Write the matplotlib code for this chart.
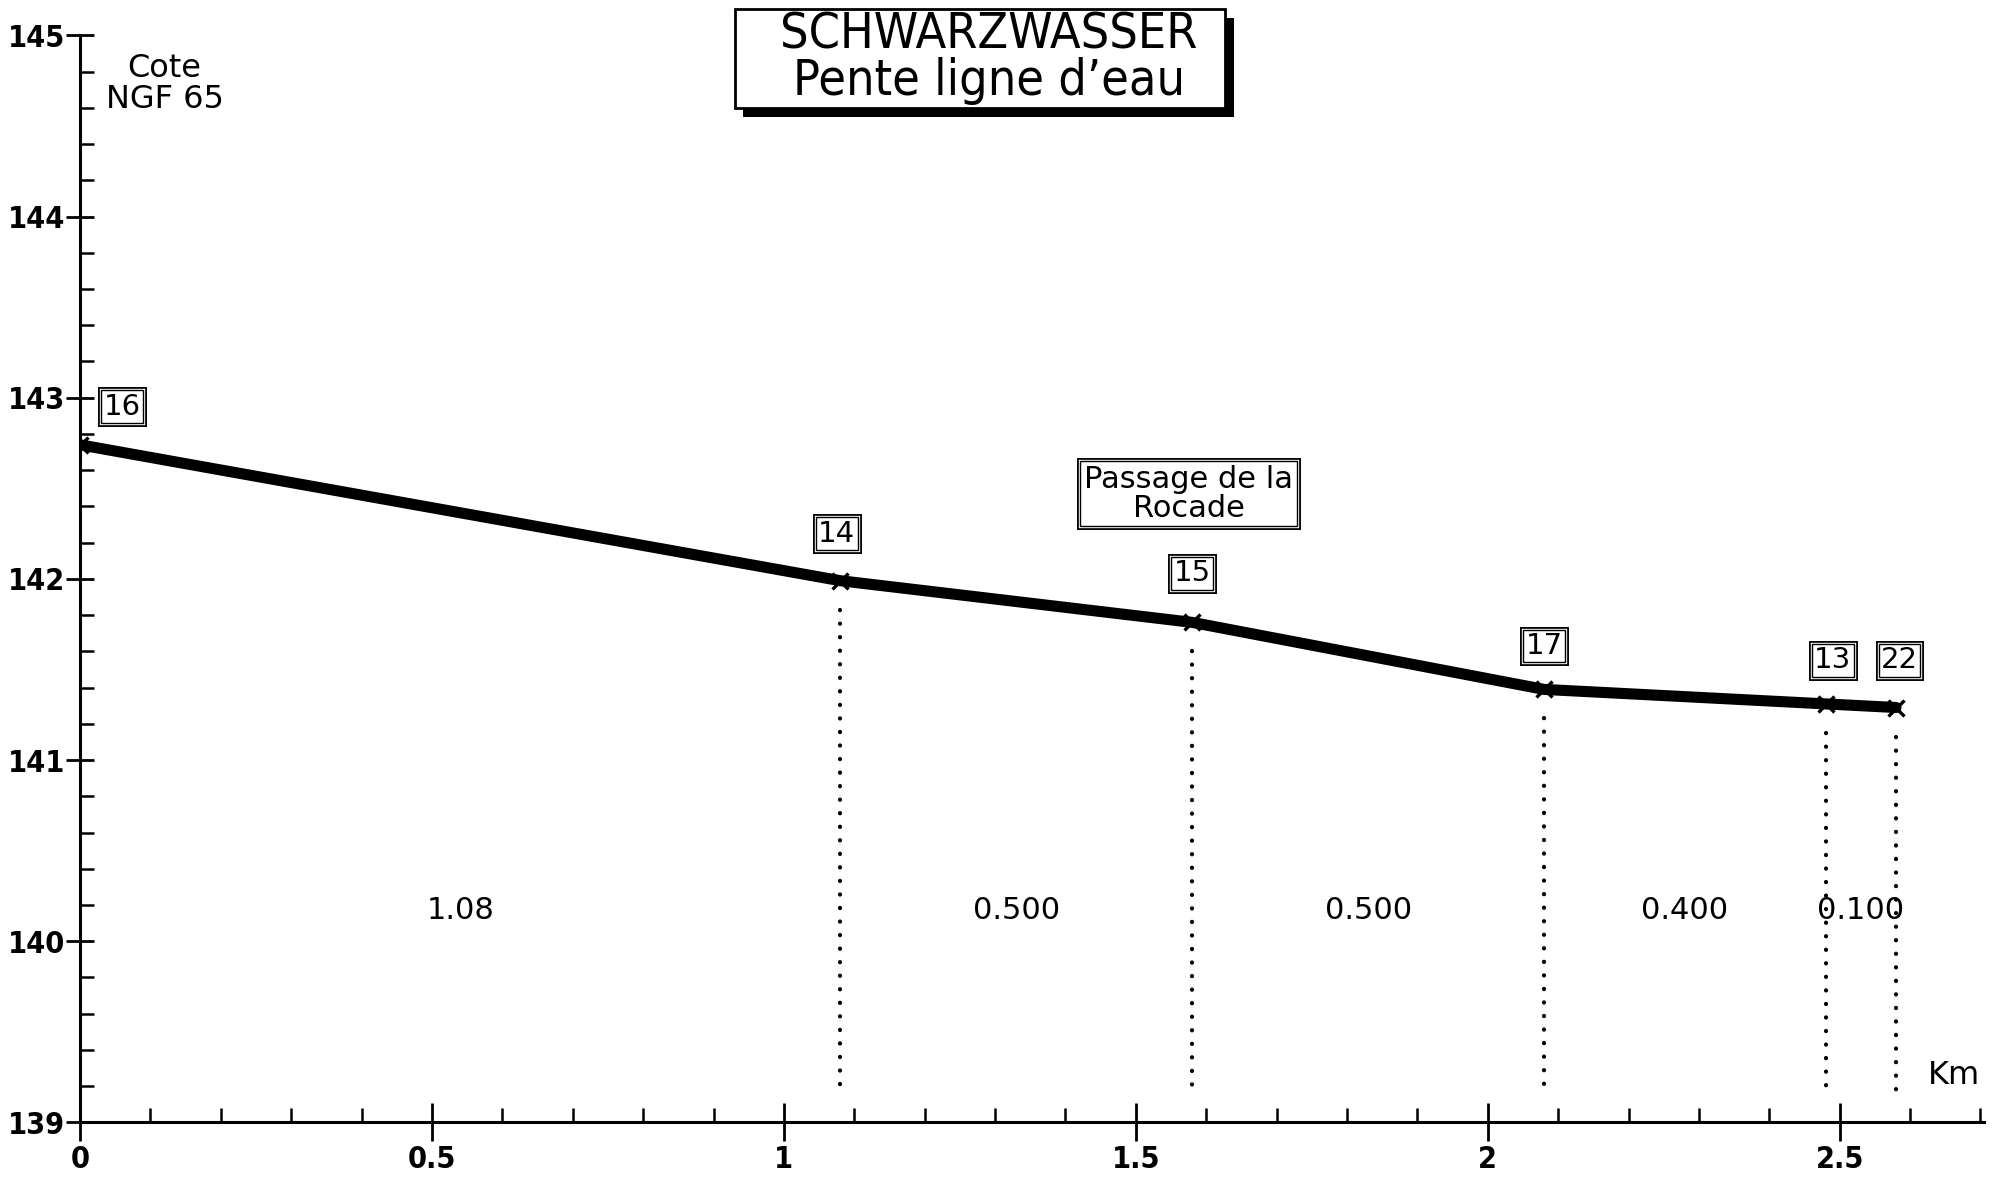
import matplotlib
matplotlib.use("Agg")
import matplotlib.pyplot as plt
import matplotlib.patheffects as pe
from matplotlib.patches import Rectangle
from matplotlib.font_manager import FontProperties
from matplotlib.ticker import MultipleLocator, FixedLocator, FixedFormatter

# Profile points (km, cote NGF 65)
stations = ["16", "14", "15", "17", "13", "22"]
distance_km = [0.0, 1.08, 1.58, 2.08, 2.48, 2.58]
water_level = [142.74, 141.99, 141.76, 141.39, 141.31, 141.29]

# Segment lengths written between the stations
segment_labels = ["1.08", "0.500", "0.500", "0.400", "0.100"]

x_ticks = [0, 0.5, 1, 1.5, 2, 2.5]
x_tick_labels = ["0", "0.5", "1", "1.5", "2", "2.5"]
y_ticks = [139, 140, 141, 142, 143, 144, 145]

tick_font = FontProperties(family="DejaVu Sans", weight="bold", stretch="condensed", size=22)

fig = plt.figure(figsize=(20.02, 11.79), dpi=100)
ax = fig.add_axes([0.040, 0.048, 0.951, 0.922])

ax.set_xlim(0, 2.705)
ax.set_ylim(139, 145)
for side in ("top", "right"):
    ax.spines[side].set_visible(False)
for side in ("left", "bottom"):
    ax.spines[side].set_linewidth(2.2)

ax.xaxis.set_major_locator(FixedLocator(x_ticks))
ax.xaxis.set_major_formatter(FixedFormatter(x_tick_labels))
ax.xaxis.set_minor_locator(MultipleLocator(0.1))
ax.yaxis.set_major_locator(FixedLocator(y_ticks))
ax.yaxis.set_minor_locator(MultipleLocator(0.2))
ax.tick_params(axis="x", which="major", direction="inout", length=28, width=2, pad=2)
ax.tick_params(axis="y", which="major", direction="inout", length=20, width=2, pad=0.5)
ax.tick_params(which="minor", direction="in", length=10, width=1.8)
for lab in ax.get_xticklabels() + ax.get_yticklabels():
    lab.set_fontproperties(tick_font)

# water line
ax.plot(distance_km, water_level, color="black", lw=8, solid_joinstyle="round",
        solid_capstyle="round", zorder=3)
ax.plot(distance_km, water_level, ls="none", marker="x", ms=11, mew=2.4,
        color="black", zorder=4)

# dotted verticals below stations
for xk, yk in zip(distance_km[1:], water_level[1:]):
    ax.plot([xk, xk], [yk - 0.16, 139.18], color="black", lw=3,
            ls=(0, (0.05, 3.2)), dash_capstyle="round", zorder=2)

# segment lengths
for i, lab in enumerate(segment_labels):
    mid = (distance_km[i] + distance_km[i + 1]) / 2
    ax.text(mid, 140.17, lab, ha="center", va="center", fontsize=22)

# station boxes
double_box = [pe.Stroke(linewidth=5, foreground="black"),
              pe.Stroke(linewidth=2.4, foreground="white"),
              pe.Stroke(linewidth=1.0, foreground="black")]
label_pos = [(0.06, 142.95), (1.075, 142.25), (1.58, 142.03),
             (2.08, 141.63), (2.49, 141.55), (2.585, 141.55)]
for name, (lx, ly) in zip(stations, label_pos):
    t = ax.text(lx, ly, name, ha="center", va="center", fontsize=21, zorder=5,
                bbox=dict(boxstyle="square,pad=0.08", fc="white", ec="none"))
    t.get_bbox_patch().set_path_effects(double_box)

t = ax.text(1.575, 142.47, "Passage de la\nRocade", ha="center", va="center",
            fontsize=22, linespacing=1.0, zorder=5,
            bbox=dict(boxstyle="square,pad=0.12", fc="white", ec="none"))
t.get_bbox_patch().set_path_effects(double_box)

ax.text(0.12, 144.73, "Cote\nNGF 65", ha="center", va="center", fontsize=23,
        linespacing=1.0)
ax.text(2.662, 139.26, "Km", ha="center", va="center", fontsize=23)

# title frame with drop shadow
frame = Rectangle((0.367, 0.908), 0.245, 0.084, transform=fig.transFigure,
                  fc="white", ec="black", lw=2, zorder=1)
frame.set_path_effects([
    pe.SimplePatchShadow(offset=(6, -6), shadow_rgbFace="black", alpha=1.0),
    pe.Normal()])
fig.patches.append(frame)
fig.text(0.494, 0.951, "SCHWARZWASSER\nPente ligne d\u2019eau", ha="center",
         va="center", fontsize=36, linespacing=0.98, fontstretch="condensed",
         zorder=2)

fig.savefig("out.png", dpi=100)
